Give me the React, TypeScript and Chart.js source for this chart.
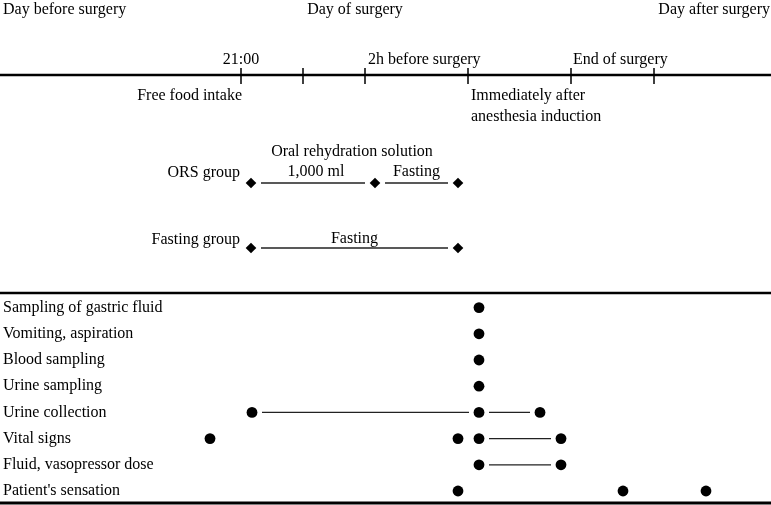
import React, { useEffect, useRef } from "react";
import { Chart, registerables } from "chart.js";

Chart.register(...registerables);

// ---------- Data ----------
// Timeline positions (diagram time units along x)
const dayNames = ["Day before surgery", "Day of surgery", "Day after surgery"];
const timelineTicks = [241, 303, 365, 468, 571, 654];
const tickLabelsAbove = ["21:00", "2h before surgery", "End of surgery"];
const tickLabelsBelow = ["Free food intake", "Immediately after", "anesthesia induction"];

// Group protocol
const orsMarkers = [251, 375, 458];
const orsSegments = ["1,000 ml", "Fasting"];
const fastingMarkers = [251, 458];
const fastingSegments = ["Fasting"];

// Measurement table
const rowLabels = [
  "Sampling of gastric fluid",
  "Vomiting, aspiration",
  "Blood sampling",
  "Urine sampling",
  "Urine collection",
  "Vital signs",
  "Fluid, vasopressor dose",
  "Patient's sensation",
];
const rowPoints: number[][] = [
  [479],
  [479],
  [479],
  [479],
  [252, 479, 540],
  [210, 458, 479, 561],
  [479, 561],
  [458, 623, 706],
];
// spans connected by a line: [rowIndex, from, to]
const rowSpans: number[][] = [
  [4, 252, 479],
  [4, 479, 540],
  [5, 479, 561],
  [6, 479, 561],
];

// ---------- Layout (diagram y units, x extent) ----------
const W = 771;
const H = 505;
const FONT = '16px "Liberation Serif", "Times New Roman", serif';
const yDays = 10;
const yAxisLine = 75;
const yTickTop = 68;
const yTickBottom = 84;
const yAbove = 60;
const yBelow1 = 96;
const yBelow2 = 117;
const yOrsTitle = 152;
const yOrs = 183;
const yFast = 248;
const yTableTop = 293;
const yTableBottom = 503;
const yRow0 = 307.6;
const rowStep = 26.2;
const markerGap = 10;

function seg(x1: number, y1: number, x2: number, y2: number, w: number, color = "#000") {
  return {
    type: "line" as const,
    data: [
      { x: x1, y: y1 },
      { x: x2, y: y2 },
    ],
    showLine: true,
    borderColor: color,
    borderWidth: w,
    pointRadius: 0,
    pointHoverRadius: 0,
    fill: false,
    tension: 0,
    clip: false as any,
  };
}

export default function App() {
  const ref = useRef<HTMLCanvasElement | null>(null);

  useEffect(() => {
    if (!ref.current) return;
    const datasets: any[] = [];

    // main timeline
    datasets.push(seg(0, yAxisLine, W, yAxisLine, 2.5));
    timelineTicks.forEach((t) => datasets.push(seg(t, yTickTop, t, yTickBottom, 1.5)));

    // group protocol lines
    for (let i = 0; i < orsMarkers.length - 1; i++) {
      datasets.push(seg(orsMarkers[i] + markerGap, yOrs, orsMarkers[i + 1] - markerGap, yOrs, 1.3, "#222"));
    }
    for (let i = 0; i < fastingMarkers.length - 1; i++) {
      datasets.push(seg(fastingMarkers[i] + markerGap, yFast, fastingMarkers[i + 1] - markerGap, yFast, 1.3, "#222"));
    }
    datasets.push({
      type: "scatter",
      data: [
        ...orsMarkers.map((x) => ({ x, y: yOrs })),
        ...fastingMarkers.map((x) => ({ x, y: yFast })),
      ],
      pointStyle: "rectRot",
      pointRadius: 5.3,
      backgroundColor: "#000",
      borderColor: "#000",
      borderWidth: 0,
      clip: false,
    });

    // table lines
    datasets.push(seg(0, yTableTop, W, yTableTop, 2.5));
    datasets.push(seg(0, yTableBottom, W, yTableBottom, 3));

    const rowY = (i: number) => yRow0 + i * rowStep;
    rowSpans.forEach(([r, a, b]) => {
      datasets.push(seg(a + markerGap, rowY(r), b - markerGap, rowY(r), 1.3, "#222"));
    });
    datasets.push({
      type: "scatter",
      data: rowPoints.flatMap((xs, r) => xs.map((x) => ({ x, y: rowY(r) }))),
      pointStyle: "circle",
      pointRadius: 5.4,
      backgroundColor: "#000",
      borderColor: "#000",
      borderWidth: 0,
      clip: false,
    });

    const textPlugin = {
      id: "texts",
      afterDatasetsDraw(chart: any) {
        const { ctx, scales } = chart;
        const px = (v: number) => scales.x.getPixelForValue(v);
        const py = (v: number) => scales.y.getPixelForValue(v);
        ctx.save();
        ctx.font = FONT;
        ctx.fillStyle = "#000";
        ctx.textBaseline = "middle";
        const put = (t: string, x: number, y: number, align: CanvasTextAlign) => {
          ctx.textAlign = align;
          ctx.fillText(t, px(x), py(y));
        };
        put(dayNames[0], 3, yDays, "left");
        put(dayNames[1], 355, yDays, "center");
        put(dayNames[2], W - 1, yDays, "right");

        put(tickLabelsAbove[0], timelineTicks[0], yAbove, "center");
        put(tickLabelsAbove[1], timelineTicks[3] - 100, yAbove, "left");
        put(tickLabelsAbove[2], timelineTicks[4] + 2, yAbove, "left");

        put(tickLabelsBelow[0], timelineTicks[0] + 1, yBelow1, "right");
        put(tickLabelsBelow[1], timelineTicks[3] + 3, yBelow1, "left");
        put(tickLabelsBelow[2], timelineTicks[3] + 3, yBelow2, "left");

        put("Oral rehydration solution", 352, yOrsTitle, "center");
        put("ORS group", 240, yOrs - 10, "right");
        put(orsSegments[0], (orsMarkers[0] + orsMarkers[1]) / 2 + 3, yOrs - 11, "center");
        put(orsSegments[1], (orsMarkers[1] + orsMarkers[2]) / 2 + 0, yOrs - 11, "center");
        put("Fasting group", 240, yFast - 8, "right");
        put(fastingSegments[0], (fastingMarkers[0] + fastingMarkers[1]) / 2, yFast - 9, "center");

        rowLabels.forEach((l, i) => put(l, 3, rowY(i), "left"));
        ctx.restore();
      },
    };

    const chart = new Chart(ref.current, {
      type: "scatter",
      data: { datasets },
      options: {
        animation: false,
        responsive: false,
        maintainAspectRatio: false,
        layout: { padding: 0, autoPadding: false },
        plugins: { legend: { display: false }, tooltip: { enabled: false } },
        events: [],
        scales: {
          x: { type: "linear", min: 0, max: W, display: false },
          y: { type: "linear", min: 0, max: H, reverse: true, display: false },
        },
      },
      plugins: [textPlugin],
    });
    return () => chart.destroy();
  }, []);

  return (
    <div style={{ position: "absolute", left: 0, top: 0, width: W, height: H, background: "#fff" }}>
      <canvas ref={ref} width={W} height={H} style={{ display: "block" }} />
    </div>
  );
}
